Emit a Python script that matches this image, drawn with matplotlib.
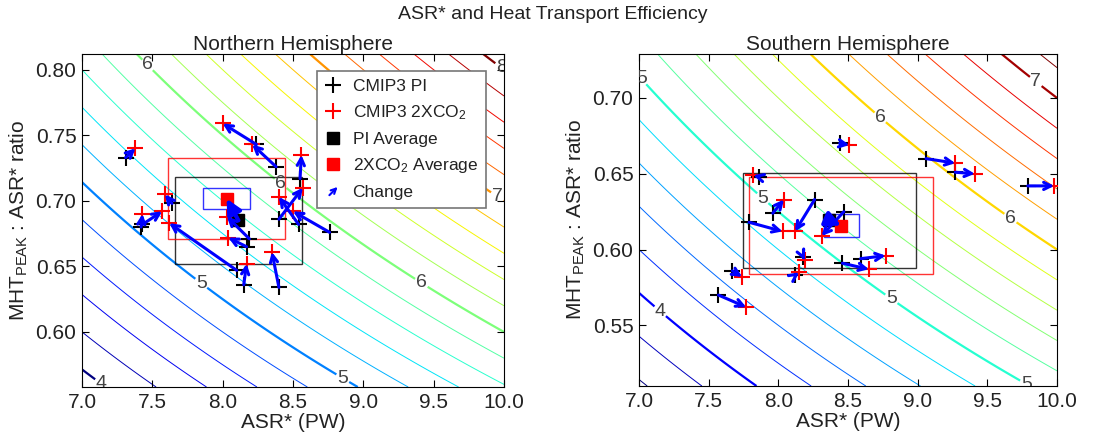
import numpy as np
import matplotlib
matplotlib.use('Agg')
import matplotlib.pyplot as plt
from matplotlib.patches import Rectangle, FancyArrowPatch
from matplotlib.legend_handler import HandlerPatch
from matplotlib.lines import Line2D

plt.rcParams['font.family'] = ['Liberation Sans', 'DejaVu Sans']
plt.rcParams['mathtext.fontset'] = 'custom'
plt.rcParams['mathtext.rm'] = 'Liberation Sans'
plt.rcParams['mathtext.it'] = 'Liberation Sans:italic'
plt.rcParams['text.color'] = '#222222'
plt.rcParams['axes.labelcolor'] = '#222222'

# Northern hemisphere, one entry per CMIP3 model
nh_pi_asr = [7.31, 8.24, 8.38, 8.55, 8.40, 8.54, 8.76, 7.64, 7.42, 7.43, 8.10, 8.17, 8.15, 8.40, 8.19]
nh_pi_ratio = [0.733, 0.743, 0.726, 0.717, 0.686, 0.682, 0.676, 0.698, 0.680, 0.682, 0.647, 0.665, 0.636, 0.634, 0.671]
nh_co2_asr = [7.38, 8.00, 8.21, 8.56, 8.57, 8.40, 8.50, 7.59, 7.43, 7.57, 7.62, 8.04, 8.17, 8.35, 8.03]
nh_co2_ratio = [0.740, 0.759, 0.743, 0.735, 0.710, 0.703, 0.692, 0.705, 0.690, 0.692, 0.683, 0.672, 0.652, 0.661, 0.688]

# Southern hemisphere
sh_pi_asr = [8.44, 9.06, 9.27, 9.79, 7.86, 7.96, 7.79, 8.26, 8.47, 7.67, 7.57, 8.18, 8.12, 8.46, 8.59]
sh_pi_ratio = [0.670, 0.660, 0.651, 0.642, 0.648, 0.624, 0.618, 0.633, 0.625, 0.586, 0.570, 0.595, 0.583, 0.591, 0.594]
sh_co2_asr = [8.51, 9.27, 9.41, 9.98, 7.82, 8.04, 8.03, 8.12, 8.31, 7.74, 7.77, 8.19, 8.15, 8.65, 8.77]
sh_co2_ratio = [0.669, 0.657, 0.650, 0.642, 0.649, 0.633, 0.612, 0.612, 0.609, 0.582, 0.562, 0.593, 0.585, 0.587, 0.596]

# MHT contour levels (PW): thin every 0.2, thick + labelled at whole numbers
nh_levels = np.round(np.arange(4.0, 8.01, 0.2), 1)
sh_levels = np.round(np.arange(3.6, 7.21, 0.2), 1)

x_ticks = [7.0, 7.5, 8.0, 8.5, 9.0, 9.5, 10.0]
nh_y_ticks = [0.60, 0.65, 0.70, 0.75, 0.80]
sh_y_ticks = [0.55, 0.60, 0.65, 0.70]


class ArrowHandler(HandlerPatch):
    def create_artists(self, legend, orig_handle, xdescent, ydescent,
                       width, height, fontsize, trans):
        a = FancyArrowPatch((0.15 * width - xdescent, -ydescent),
                            (0.85 * width - xdescent, height - ydescent),
                            arrowstyle='->', mutation_scale=9, color='blue', lw=1.5)
        a.set_transform(trans)
        return [a]


def draw_panel(ax, pi_x, pi_y, co2_x, co2_y, levels, vmin, vmax, ylim,
               yticks, label_pos, title):
    pi_x, pi_y = np.array(pi_x), np.array(pi_y)
    co2_x, co2_y = np.array(co2_x), np.array(co2_y)

    gx = np.linspace(7.0, 10.0, 400)
    gy = np.linspace(ylim[0], ylim[1], 400)
    X, Y = np.meshgrid(gx, gy)
    Z = X * Y
    is_int = np.abs(levels - np.round(levels)) < 1e-6
    ax.contour(X, Y, Z, levels=levels[~is_int], cmap='jet', vmin=vmin, vmax=vmax,
               linewidths=0.7, zorder=1)
    cs = ax.contour(X, Y, Z, levels=levels[is_int], cmap='jet', vmin=vmin, vmax=vmax,
                    linewidths=1.6, zorder=1)
    labels = ax.clabel(cs, fmt='%.0f', fontsize=14, colors='#444444',
                       manual=label_pos, inline=True, inline_spacing=2)
    for t in labels:
        t.set_rotation(0)
        t.set_clip_on(True)

    # +-1 std boxes
    for cx, cy, sx, sy, col in [
        (pi_x.mean(), pi_y.mean(), pi_x.std(ddof=1), pi_y.std(ddof=1), 'k'),
        (co2_x.mean(), co2_y.mean(), co2_x.std(ddof=1), co2_y.std(ddof=1), 'red'),
        (co2_x.mean(), co2_y.mean(), (co2_x - pi_x).std(ddof=1),
         (co2_y - pi_y).std(ddof=1), 'blue'),
    ]:
        ax.add_patch(Rectangle((cx - sx, cy - sy), 2 * sx, 2 * sy, fill=False,
                               ec=col, lw=1, alpha=0.8, zorder=2))

    ax.plot(pi_x, pi_y, ls='none', marker='+', color='k', ms=12, mew=1.5, zorder=3)
    ax.plot(co2_x, co2_y, ls='none', marker='+', color='red', ms=12, mew=1.5, zorder=3)
    ax.plot(pi_x.mean(), pi_y.mean(), ls='none', marker='s', color='k', ms=9, zorder=4)
    ax.plot(co2_x.mean(), co2_y.mean(), ls='none', marker='s', color='red', ms=9, zorder=4)

    for x0, y0, x1, y1 in zip(pi_x, pi_y, co2_x, co2_y):
        ax.annotate('', xy=(x1, y1), xytext=(x0, y0),
                    arrowprops=dict(arrowstyle='->', color='blue', lw=2.2,
                                    shrinkA=0, shrinkB=0, mutation_scale=13),
                    zorder=5)
    ax.annotate('', xy=(co2_x.mean(), co2_y.mean()), xytext=(pi_x.mean(), pi_y.mean()),
                arrowprops=dict(arrowstyle='-|>', color='blue', lw=3,
                                shrinkA=0, shrinkB=0, mutation_scale=22),
                zorder=5)

    ax.set_xlim(7.0, 10.0)
    ax.set_ylim(*ylim)
    ax.set_xticks(x_ticks)
    ax.set_xticklabels(['%.1f' % v for v in x_ticks])
    ax.set_yticks(yticks)
    ax.set_yticklabels(['%.2f' % v for v in yticks])
    ax.tick_params(direction='in', top=True, right=True, length=5, labelsize=15,
                   labelcolor='#222222', pad=4)
    ax.set_xlabel('ASR* (PW)', fontsize=15, labelpad=1)
    ax.set_ylabel('MHT$_{\\mathrm{PEAK}}$ : ASR* ratio', fontsize=15, labelpad=4)
    ax.set_title(title, fontsize=15, pad=3)


fig = plt.figure(figsize=(11.05, 4.38), dpi=100)
ax1 = fig.add_axes([0.0742, 0.1164, 0.3819, 0.7603])
ax2 = fig.add_axes([0.5783, 0.1187, 0.3783, 0.758])

draw_panel(ax1, nh_pi_asr, nh_pi_ratio, nh_co2_asr, nh_co2_ratio, nh_levels,
           4.0, 8.0, (0.558, 0.812), nh_y_ticks,
           [(7.46, 0.803), (9.97, 0.80), (9.95, 0.703), (8.41, 0.713),
            (9.41, 0.637), (7.84, 0.636), (8.85, 0.564), (7.14, 0.561)],
           'Northern Hemisphere')
draw_panel(ax2, sh_pi_asr, sh_pi_ratio, sh_co2_asr, sh_co2_ratio, sh_levels,
           3.6, 7.12, (0.51, 0.729), sh_y_ticks,
           [(7.02, 0.713), (8.72, 0.686), (9.66, 0.62), (9.84, 0.71),
            (7.88, 0.633), (8.8, 0.566), (9.79, 0.5125), (7.14, 0.558)],
           'Southern Hemisphere')

handles = [
    Line2D([], [], ls='none', marker='+', color='k', ms=12, mew=1.5),
    Line2D([], [], ls='none', marker='+', color='red', ms=12, mew=1.5),
    Line2D([], [], ls='none', marker='s', color='k', ms=9),
    Line2D([], [], ls='none', marker='s', color='red', ms=9),
    FancyArrowPatch((0, 0), (1, 1), color='blue'),
]
names = ['CMIP3 PI', 'CMIP3 2XCO$_2$', 'PI Average', '2XCO$_2$ Average', 'Change']
leg = ax1.legend(handles, names, handler_map={FancyArrowPatch: ArrowHandler()},
                 loc='upper right', bbox_to_anchor=(0.957, 0.949), fontsize=12.5,
                 fancybox=False, framealpha=1, edgecolor='#777777',
                 labelspacing=0.55, handlelength=1.0, handletextpad=0.6,
                 borderpad=0.45, borderaxespad=0)
leg.get_frame().set_linewidth(1.2)
leg.set_zorder(10)

fig.suptitle('ASR* and Heat Transport Efficiency', fontsize=14, y=0.966, va='center')

fig.savefig('out.png', dpi=100)
